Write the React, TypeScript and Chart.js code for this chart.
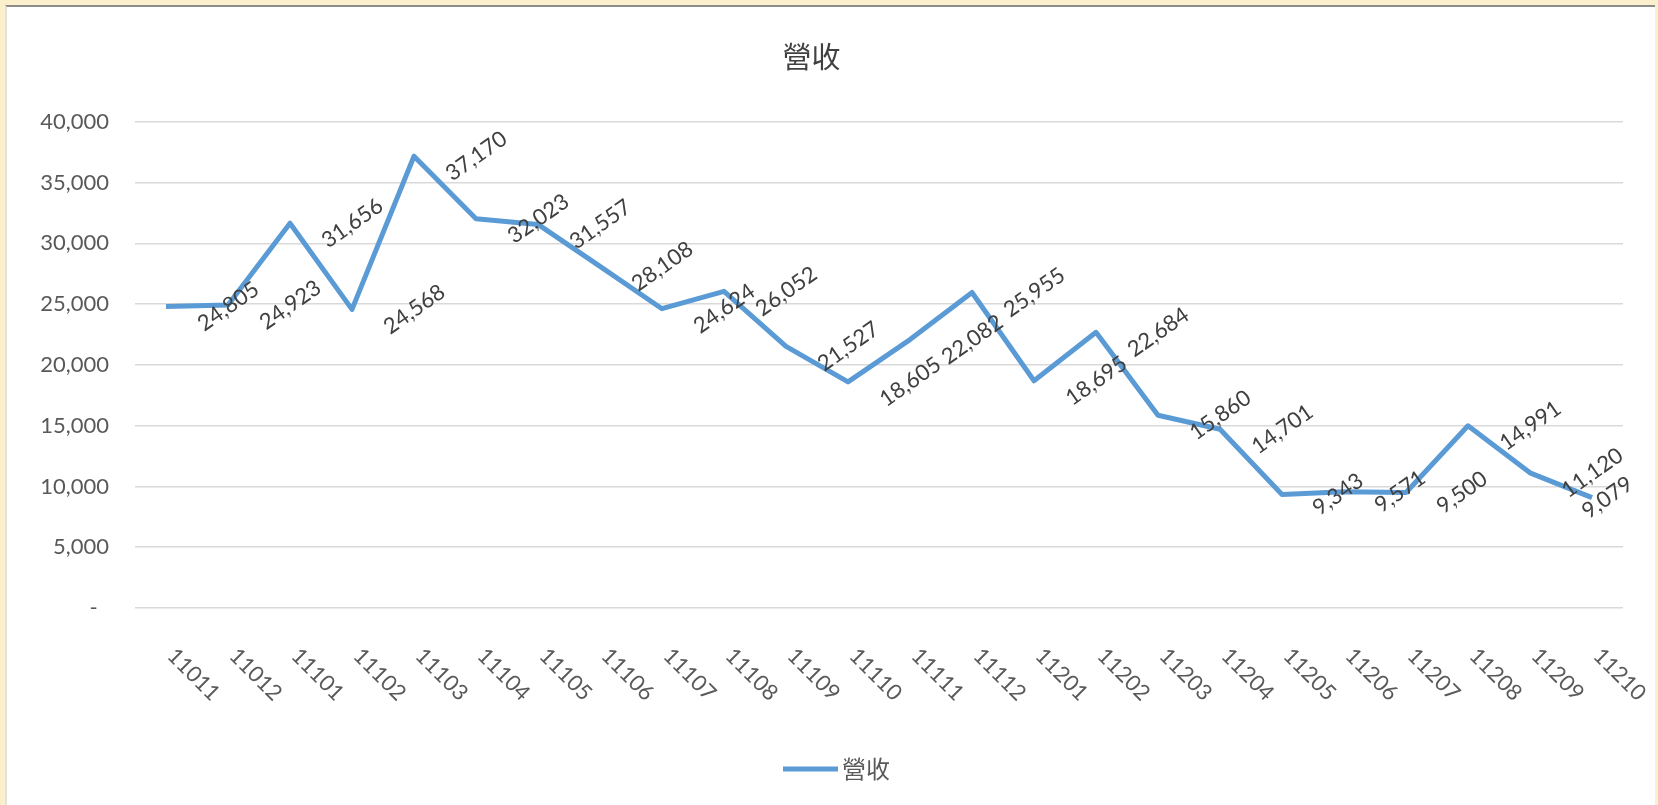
import React, { useEffect, useRef } from "react";
import { Chart, registerables } from "chart.js";

Chart.register(...registerables);

const chartTitle = "營收";
const seriesName = "營收";
const categories = [
  "11011", "11012", "11101", "11102", "11103", "11104", "11105", "11106",
  "11107", "11108", "11109", "11110", "11111", "11112", "11201", "11202",
  "11203", "11204", "11205", "11206", "11207", "11208", "11209", "11210",
];
const revenue = [
  24805, 24923, 31656, 24568, 37170, 32023, 31557, 28108,
  24624, 26052, 21527, 18605, 22082, 25955, 18695, 22684,
  15860, 14701, 9343, 9571, 9500, 14991, 11120, 9079,
];
const yMin = 0;
const yMax = 40000;
const yStep = 5000;

const LINE_COLOR = "#5B9BD5";
const NUM_FONT = "Lato, 'Noto Sans', sans-serif";
const CJK_FONT = "'Noto Sans CJK TC', 'Noto Sans CJK SC', sans-serif";

const fmt = (v: number) => v.toLocaleString("en-US");

const labelPlugin = {
  id: "excelLabels",
  afterDatasetsDraw(chart: any) {
    const ctx = chart.ctx as CanvasRenderingContext2D;
    const meta = chart.getDatasetMeta(0);
    const ds = chart.data.datasets[0];
    const ang = (35 * Math.PI) / 180;
    const maxRight = chart.chartArea.right + 12;
    // data labels
    ctx.save();
    ctx.font = `22px ${NUM_FONT}`;
    ctx.fillStyle = "#404040";
    ctx.textAlign = "center";
    ctx.textBaseline = "middle";
    meta.data.forEach((pt: any, i: number) => {
      const text = fmt(ds.data[i] as number);
      const w = ctx.measureText(text).width;
      const bw = w * Math.cos(ang) + 16 * Math.sin(ang);
      let cx = pt.x + 28 + w / 2;
      if (cx + bw / 2 > maxRight) cx = maxRight - bw / 2;
      ctx.save();
      ctx.translate(cx, pt.y);
      ctx.rotate(-ang);
      ctx.fillText(text, 0, 0);
      ctx.restore();
    });
    ctx.restore();

    // x labels (rotated clockwise)
    const xs = chart.scales.x;
    ctx.save();
    ctx.font = `22px ${NUM_FONT}`;
    ctx.fillStyle = "#595959";
    ctx.textAlign = "left";
    ctx.textBaseline = "middle";
    const labels = chart.data.labels as string[];
    labels.forEach((lab: string, i: number) => {
      const x = xs.getPixelForTick(i);
      ctx.save();
      ctx.translate(x + 5, chart.chartArea.bottom + 44);
      ctx.rotate((45 * Math.PI) / 180);
      ctx.fillText(lab, 0, 0);
      ctx.restore();
    });
    ctx.restore();

    // legend
    ctx.save();
    const ly = 769;
    ctx.strokeStyle = LINE_COLOR;
    ctx.lineWidth = 5;
    ctx.lineCap = "butt";
    ctx.beginPath();
    ctx.moveTo(783, ly);
    ctx.lineTo(838, ly);
    ctx.stroke();
    ctx.font = `24px ${CJK_FONT}`;
    ctx.fillStyle = "#595959";
    ctx.textAlign = "left";
    ctx.textBaseline = "middle";
    ctx.fillText(ds.label, 842, ly);
    ctx.restore();
  },
};

export default function App() {
  const canvasRef = useRef<HTMLCanvasElement | null>(null);

  useEffect(() => {
    if (!canvasRef.current) return;
    const chart = new Chart(canvasRef.current, {
      type: "line",
      data: {
        labels: categories,
        datasets: [
          {
            label: seriesName,
            data: revenue,
            borderColor: LINE_COLOR,
            backgroundColor: LINE_COLOR,
            borderWidth: 5,
            pointRadius: 0,
            tension: 0,
            borderJoinStyle: "round",
            borderCapStyle: "butt",
          },
        ],
      },
      options: {
        animation: false,
        responsive: false,
        maintainAspectRatio: false,
        layout: { padding: { left: 0, right: 35, top: 0, bottom: 0 } },
        plugins: {
          title: {
            display: true,
            text: chartTitle,
            color: "#404040",
            font: { family: CJK_FONT, size: 29, weight: "normal", lineHeight: 1.2 },
            padding: { top: 40, bottom: 47 },
          },
          legend: { display: false },
          tooltip: { enabled: false },
        },
        scales: {
          x: {
            type: "category",
            offset: true,
            grid: { display: false },
            border: { display: false },
            ticks: { display: false },
            afterFit: (s: any) => {
              s.height = 197;
            },
          },
          y: {
            min: yMin,
            max: yMax,
            border: { display: false },
            grid: { color: "#d9d9d9", lineWidth: 1.5, drawTicks: false },
            ticks: {
              stepSize: yStep,
              padding: 26,
              color: "#595959",
              font: { family: NUM_FONT, size: 22 },
              callback: (v: any) => (Number(v) === 0 ? "-  " : fmt(Number(v))),
            },
            afterFit: (s: any) => {
              s.width = 135;
            },
          },
        },
      },
      plugins: [labelPlugin],
    } as any);
    return () => chart.destroy();
  }, []);

  return (
    <div
      style={{
        position: "fixed",
        left: 0,
        top: 0,
        width: 1658,
        height: 805,
        background: "#FCEFCC",
        overflow: "hidden",
      }}
    >
      <div
        style={{
          position: "absolute",
          left: 5,
          top: 5,
          width: 1650,
          height: 800,
          background: "#ffffff",
          borderTop: "2px solid #8c8c8c",
          borderLeft: "2px solid #e2e2e2",
          boxSizing: "border-box",
        }}
      />
      <canvas
        ref={canvasRef}
        width={1658}
        height={805}
        style={{ position: "absolute", left: 0, top: 0, width: 1658, height: 805 }}
      />
    </div>
  );
}
